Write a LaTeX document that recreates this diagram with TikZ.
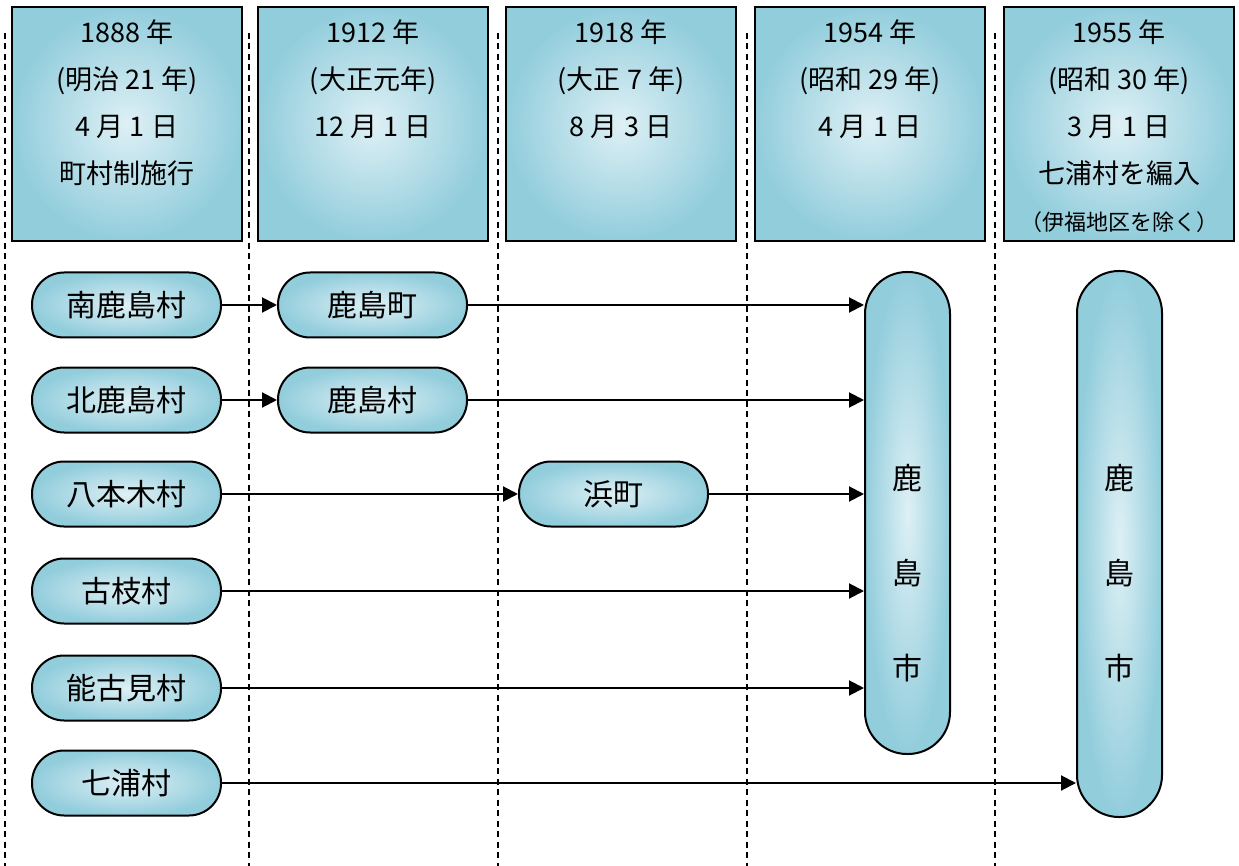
\documentclass[tikz,border=0pt]{standalone}
\usepackage{fontspec}
\setmainfont{Noto Sans CJK JP}
\usetikzlibrary{arrows.meta}
\definecolor{edgeblue}{RGB}{146,205,220}
\definecolor{lightblue}{RGB}{222,240,245}
\begin{document}
\begin{tikzpicture}[x=1pt,y=-1pt,
  hdr/.style={draw=black, line width=2pt, inner color=lightblue, outer color=edgeblue,
    minimum width=230pt, minimum height=234pt, inner sep=0pt},
  hdrtext/.style={anchor=north, align=center, inner sep=0pt, font=\fontsize{27}{47}\selectfont},
  pill/.style={draw=black, line width=2pt, rounded corners=32pt, inner color=lightblue,
    outer color=edgeblue, minimum width=189pt, minimum height=65pt, inner sep=0pt,
    font=\fontsize{30}{30}\selectfont},
  tall/.style={draw=black, line width=2pt, rounded corners=42pt, inner color=lightblue,
    outer color=edgeblue, minimum width=85pt, inner sep=0pt},
  talltext/.style={align=center, inner sep=0pt, font=\fontsize{30}{95}\selectfont},
  divider/.style={line width=1.8pt, dash pattern=on 6pt off 4.5pt},
  conn/.style={line width=2pt, -{Triangle[length=15pt,width=15pt]}}
]
\useasboundingbox (0,0) rectangle (1239,866);

% dividers
\foreach \i/\x in {1/5,2/249,3/498,4/747,5/995}{
  \coordinate (dt\i) at (\x,33);
  \coordinate (db\i) at (\x,866);
  \draw[divider] (dt\i) -- (db\i);
}

% header boxes
\node[hdr] (h1) at (127,124) {};
\node[hdr] (h2) at (373,124) {};
\node[hdr] (h3) at (621,124) {};
\node[hdr] (h4) at (870,124) {};
\node[hdr] (h5) at (1119,124) {};

\node[hdrtext] (t1) at (127,20) {1888 年\\(明治 21 年)\\4 月 1 日\\町村制施行};
\node[hdrtext] (t2) at (373,20) {1912 年\\(大正元年)\\12 月 1 日};
\node[hdrtext] (t3) at (621,20) {1918 年\\(大正 7 年)\\8 月 3 日};
\node[hdrtext] (t4) at (870,20) {1954 年\\(昭和 29 年)\\4 月 1 日};
\node[hdrtext] (t5) at (1119,20) {1955 年\\(昭和 30 年)\\3 月 1 日\\七浦村を編入\\{\fontsize{22}{47}\selectfont （伊福地区を除く）}};

% first column
\node[pill] (a1) at (126.5,305) {南鹿島村};
\node[pill] (a2) at (126.5,400) {北鹿島村};
\node[pill] (a3) at (126.5,494) {八本木村};
\node[pill] (a4) at (126.5,591) {古枝村};
\node[pill] (a5) at (126.5,688) {能古見村};
\node[pill] (a6) at (126.5,783) {七浦村};

% later towns
\node[pill] (b1) at (372.5,305) {鹿島町};
\node[pill] (b2) at (372.5,400) {鹿島村};
\node[pill] (c3) at (613.5,494) {浜町};

% cities
\node[tall, minimum height=482pt] (k1) at (907.5,513) {};
\node[tall, minimum height=546pt] (k2) at (1119.5,544) {};
\node[talltext] (k1t) at (907.5,573) {鹿\\島\\市};
\node[talltext] (k2t) at (1119.5,573) {鹿\\島\\市};

% connectors
\draw[conn] (a1.east) -- (b1.west);
\draw[conn] (a2.east) -- (b2.west);
\draw[conn] (a3.east) -- (c3.west);
\draw[conn] (b1.east) -- (b1.east -| k1.west);
\draw[conn] (b2.east) -- (b2.east -| k1.west);
\draw[conn] (c3.east) -- (c3.east -| k1.west);
\draw[conn] (a4.east) -- (a4.east -| k1.west);
\draw[conn] (a5.east) -- (a5.east -| k1.west);
\draw[conn] (a6.east) -- (a6.east -| k2.west);
\end{tikzpicture}
\end{document}
